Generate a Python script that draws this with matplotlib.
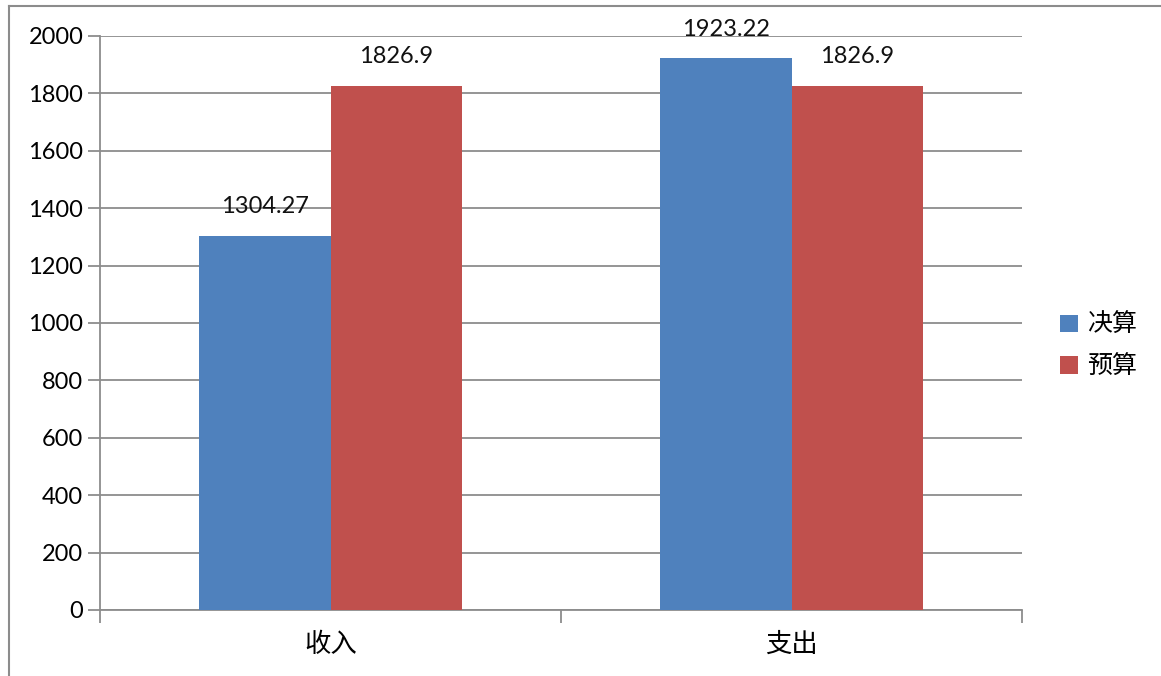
import matplotlib
matplotlib.use("Agg")
import matplotlib.pyplot as plt
from matplotlib.lines import Line2D
import numpy as np

categories = ["收入", "支出"]
series_names = ["决算", "预算"]
final_vals = [1304.27, 1923.22]
budget_vals = [1826.9, 1826.9]
final_labels = ["1304.27", "1923.22"]
budget_labels = ["1826.9", "1826.9"]
yticks = [0, 200, 400, 600, 800, 1000, 1200, 1400, 1600, 1800, 2000]

plt.rcParams['font.family'] = ['Lato', 'Noto Sans CJK SC', 'DejaVu Sans']
cjk = ['Noto Sans CJK SC', 'DejaVu Sans']

W, H = 1161, 676
fig = plt.figure(figsize=(W / 100, H / 100), dpi=100)
ax = fig.add_axes([100 / W, 1 - 610 / H, 922 / W, 574 / H])

blue = "#4F81BD"
red = "#C0504D"
grid = "#8C8C8C"

x = np.arange(len(categories))
bw = 0.285
b1 = ax.bar(x - bw / 2, final_vals, bw, color=blue, label=series_names[0], zorder=3)
b2 = ax.bar(x + bw / 2, budget_vals, bw, color=red, label=series_names[1], zorder=3)

for bars, labels in ((b1, final_labels), (b2, budget_labels)):
    for rect, lab in zip(bars, labels):
        ax.annotate(lab, (rect.get_x() + rect.get_width() / 2, rect.get_height()),
                    xytext=(0, 29), textcoords="offset pixels", ha="center", va="center",
                    fontsize=17, color="#111111", zorder=4)

ax.set_xlim(-0.5, len(categories) - 0.5)
ax.set_ylim(0, 2000)
ax.set_yticks(yticks)
ax.set_yticklabels([str(v) for v in yticks], fontsize=17)
ax.yaxis.grid(True, color=grid, linewidth=1.3, zorder=0)
ax.set_axisbelow(True)

ax.set_xticks(x)
ax.set_xticklabels(categories, fontsize=19, family=cjk)
ax.tick_params(axis='x', length=0, pad=15)
ax.set_xticks(np.arange(-0.5, len(categories)), minor=True)
ax.tick_params(axis='x', which='minor', length=9, color=grid, width=1.3, direction='out')
ax.tick_params(axis='y', length=9, color=grid, width=1.3, pad=3)

for s in ['top', 'right']:
    ax.spines[s].set_visible(False)
for s in ['left', 'bottom']:
    ax.spines[s].set_color(grid)
    ax.spines[s].set_linewidth(1.3)

leg = fig.legend(handles=[b1, b2], labels=series_names, loc="center left",
                 bbox_to_anchor=(1060 / W, 1 - 346 / H), frameon=False, borderpad=0,
                 borderaxespad=0,
                 prop={'family': cjk, 'size': 18}, handlelength=0.7, handleheight=0.7,
                 handletextpad=0.4, labelspacing=0.62)

# outer chart border (left and top visible)
fig.add_artist(Line2D([9 / W, 9 / W], [0, 1 - 6 / H], transform=fig.transFigure,
                      color=grid, linewidth=1.5))
fig.add_artist(Line2D([9 / W, 1], [1 - 6 / H, 1 - 6 / H], transform=fig.transFigure,
                      color=grid, linewidth=1.5))

fig.savefig("out.png", dpi=100)
